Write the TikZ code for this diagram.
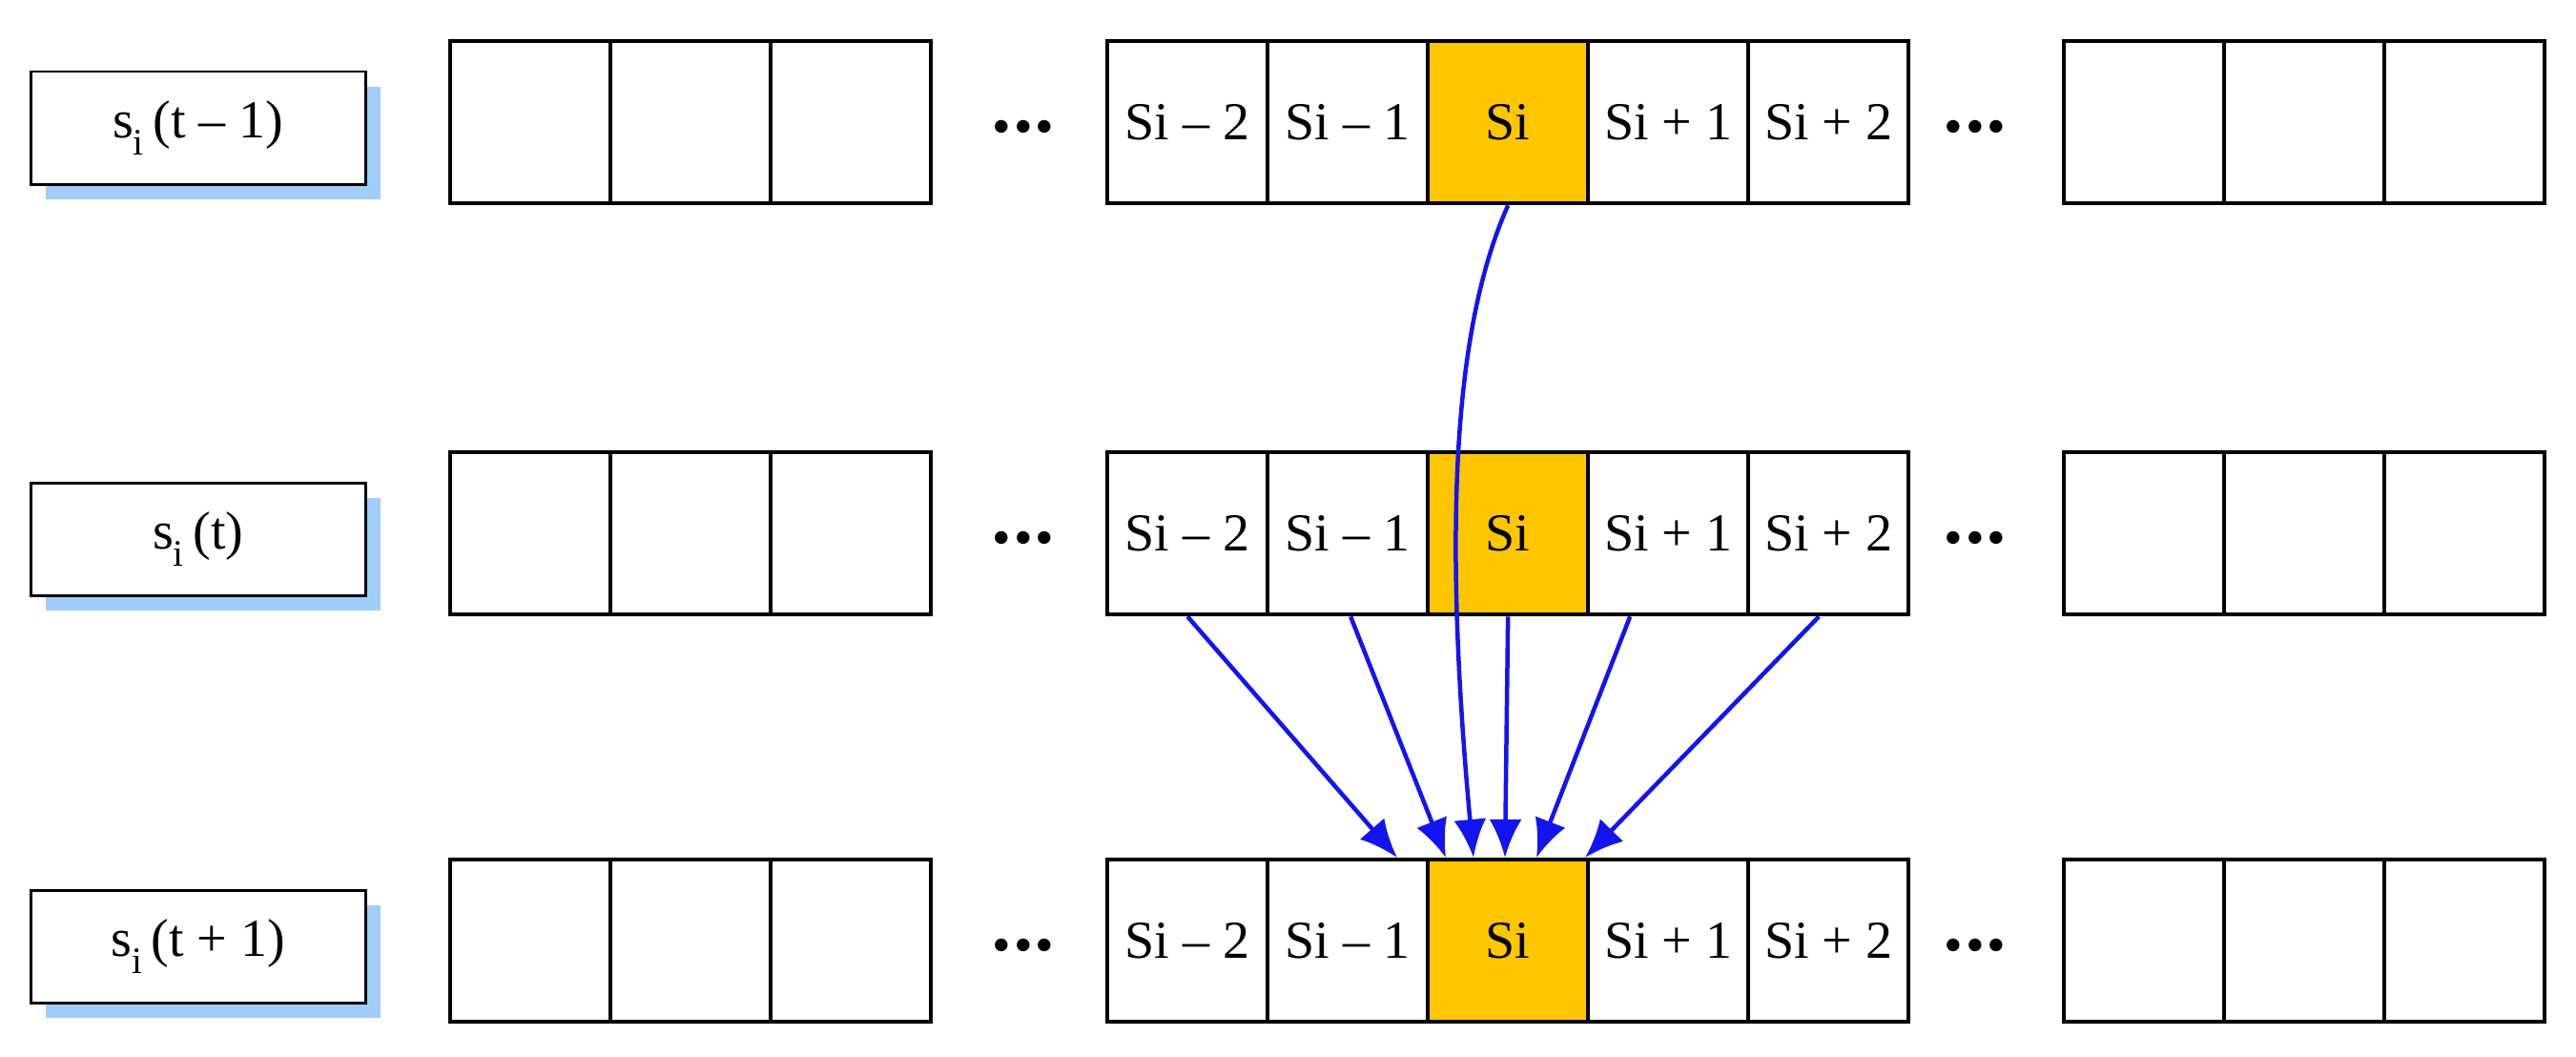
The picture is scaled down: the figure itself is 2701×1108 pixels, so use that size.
\documentclass[tikz,border=0pt]{standalone}
\usepackage{fontspec}
\setmainfont{Liberation Serif}
\usetikzlibrary{arrows.meta}
\begin{document}
\begin{tikzpicture}[x=1pt,y=-1pt,
  cell/.style={draw,line width=4.3pt,minimum width=168pt,minimum height=170pt,inner sep=0pt,font=\fontsize{56}{64}\selectfont,anchor=north west},
  hi/.style={cell,fill={rgb,255:red,255;green,198;blue,0}},
  lab/.style={draw,line width=2.5pt,fill=white,minimum width=351pt,minimum height=118pt,font=\fontsize{56}{64}\selectfont,anchor=north west},
  shad/.style={fill={rgb,255:red,160;green,205;blue,250},minimum width=351pt,minimum height=118pt,anchor=north west,inner sep=0pt},
  dots/.style={font=\fontsize{56}{64}\selectfont},
  arr/.style={draw={rgb,255:red,20;green,20;blue,240},line width=4.5pt,-{Latex[length=40pt,width=34pt]}}]
\useasboundingbox (0,0) rectangle (2701,1108);
\foreach \r/\y/\ly/\t in {a/41/74/{s\textsubscript{i}\,(t -- 1)},b/472/505/{s\textsubscript{i}\,(t)},c/899/932/{s\textsubscript{i}\,(t + 1)}}{
  \node[shad] (sh\r) at (48,\ly+17) {};
  \node[lab] (l\r) at (31,\ly) {\t};
  \foreach \i in {0,1,2}{
    \node[cell] (\r L\i) at (470+168*\i,\y) {};
    \node[cell] (\r R\i) at (2162+168*\i,\y) {};
  }
  \node[cell] (\r m2) at (1159,\y) {Si -- 2};
  \node[cell] (\r m1) at (1327,\y) {Si -- 1};
  \node[hi] (\r s) at (1495,\y) {Si};
  \node[cell] (\r p1) at (1663,\y) {Si + 1};
  \node[cell] (\r p2) at (1831,\y) {Si + 2};
  \node[dots] (\r d1) at (1073,\y+98) {\textbullet\hspace{3pt}\textbullet\hspace{3pt}\textbullet};
  \node[dots] (\r d2) at (2071,\y+98) {\textbullet\hspace{3pt}\textbullet\hspace{3pt}\textbullet};
}
\coordinate (e1) at (1465,899);
\coordinate (e2) at (1516,899);
\coordinate (e3) at (1578,899);
\coordinate (e4) at (1611,899);
\coordinate (e5) at (1662,899);
\coordinate (e0) at (1545,899);
\draw[arr] (as.south) .. controls (1530,330) and (1510,520) .. (e0);
\draw[arr] ([xshift=-0pt]bm2.south) -- (e1);
\draw[arr] ([xshift=3pt]bm1.south) -- (e2);
\draw[arr] ([xshift=0pt]bs.south) -- (e3);
\draw[arr] ([xshift=-40pt]bp1.south) -- (e4);
\draw[arr] ([xshift=-10pt]bp2.south) -- (e5);
\end{tikzpicture}
\end{document}
